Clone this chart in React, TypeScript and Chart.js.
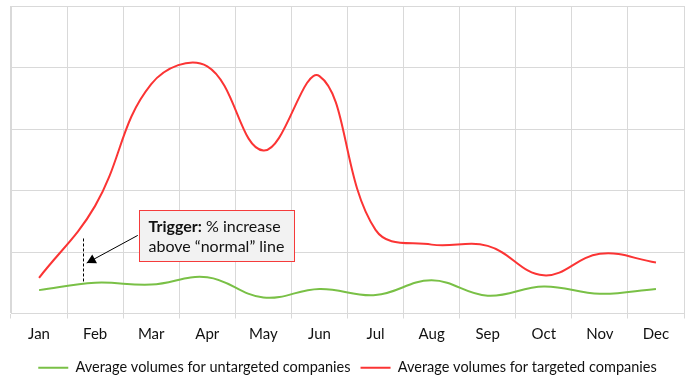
import React, { useEffect, useRef } from "react";
import { Chart, registerables } from "chart.js";

Chart.register(...registerables);

const months = ["Jan", "Feb", "Mar", "Apr", "May", "Jun", "Jul", "Aug", "Sep", "Oct", "Nov", "Dec"];
const untargeted = [0.38, 0.5, 0.47, 0.59, 0.26, 0.4, 0.3, 0.54, 0.29, 0.44, 0.32, 0.4];
const targeted = [0.58, 1.75, 3.73, 4.02, 2.65, 3.86, 1.36, 1.12, 1.1, 0.62, 0.97, 0.83];
const seriesNames = ["Average volumes for untargeted companies", "Average volumes for targeted companies"];
const yTicks = [0, 1, 2, 3, 4, 5];

const FONT = "Lato";

const annotationPlugin = {
  id: "triggerNote",
  afterDatasetsDraw(chart: any) {
    const { ctx, scales } = chart;
    const x = scales.x;
    const y = scales.y;
    const px = (v: number) => x.getPixelForValue(v);
    const py = (v: number) => y.getPixelForValue(v);
    ctx.save();
    // dashed vertical line
    const dx = Math.round(px(0.79)) + 0.5;
    ctx.strokeStyle = "#000";
    ctx.lineWidth = 1;
    ctx.setLineDash([3, 2]);
    ctx.beginPath();
    ctx.moveTo(dx, py(1.22));
    ctx.lineTo(dx, py(0.5));
    ctx.stroke();
    ctx.setLineDash([]);
    // arrow
    const ax1 = px(1.76), ay1 = py(1.27);
    const ax2 = px(0.85), ay2 = py(0.82);
    ctx.beginPath();
    ctx.moveTo(ax1, ay1);
    ctx.lineTo(ax2, ay2);
    ctx.stroke();
    const ang = Math.atan2(ay2 - ay1, ax2 - ax1);
    const L = 9, W = 5;
    ctx.fillStyle = "#000";
    ctx.beginPath();
    ctx.moveTo(ax2, ay2);
    ctx.lineTo(ax2 - L * Math.cos(ang) + W * Math.sin(ang), ay2 - L * Math.sin(ang) - W * Math.cos(ang));
    ctx.lineTo(ax2 - L * Math.cos(ang) - W * Math.sin(ang), ay2 - L * Math.sin(ang) + W * Math.cos(ang));
    ctx.closePath();
    ctx.fill();
    // box
    const bl = Math.round(px(1.78)) + 0.5, br = Math.round(px(4.55)) + 0.5;
    const bt = Math.round(py(1.68)) + 0.5, bb = Math.round(py(0.86)) + 0.5;
    ctx.fillStyle = "#f2f2f2";
    ctx.fillRect(bl, bt, br - bl, bb - bt);
    ctx.strokeStyle = "#f53b3b";
    ctx.lineWidth = 1;
    ctx.strokeRect(bl, bt, br - bl, bb - bt);
    // text
    ctx.fillStyle = "#111";
    ctx.textBaseline = "alphabetic";
    ctx.textAlign = "left";
    ctx.font = `bold 16px ${FONT}`;
    const tx = bl + 9;
    ctx.fillText("Trigger:", tx, bt + 21.5);
    const w = ctx.measureText("Trigger:").width;
    ctx.font = `16px ${FONT}`;
    ctx.fillText(" % increase", tx + w, bt + 21.5);
    ctx.fillText("above \u201Cnormal\u201D line", tx, bt + 41);
    ctx.restore();
  },
};

export default function App() {
  const ref = useRef<HTMLCanvasElement>(null);
  useEffect(() => {
    const chart = new Chart(ref.current!, {
      type: "line",
      data: {
        labels: months,
        datasets: [
          {
            label: seriesNames[0],
            data: untargeted,
            borderColor: "#79c046",
            backgroundColor: "#79c046",
            borderWidth: 2,
            pointRadius: 0,
            tension: 0.4,
          },
          {
            label: seriesNames[1],
            data: targeted,
            borderColor: "#fb3434",
            backgroundColor: "#fb3434",
            borderWidth: 2,
            pointRadius: 0,
            tension: 0.4,
          },
        ],
      },
      options: {
        responsive: false,
        animation: false,
        layout: { padding: { left: 11, right: 12, top: 6, bottom: 7 } },
        plugins: {
          tooltip: { enabled: false },
          legend: {
            position: "bottom",
            labels: {
              usePointStyle: true,
              pointStyle: "line",
              pointStyleWidth: 30,
              boxHeight: 8,
              color: "#111",
              font: { family: FONT, size: 14.5 },
              padding: 10,
            },
          },
        },
        scales: {
          x: {
            offset: true,
            grid: { offset: true, color: "#d9d9d9", lineWidth: 1, tickLength: 5, drawTicks: true },
            border: { color: "#d9d9d9" },
            ticks: { color: "#111", font: { family: FONT, size: 15 }, padding: 7 },
          },
          y: {
            min: yTicks[0],
            max: yTicks[yTicks.length - 1],
            afterBuildTicks: (s: any) => { s.ticks = yTicks.map((v) => ({ value: v })); },
            grid: { color: "#d9d9d9", drawTicks: false },
            border: { color: "#d9d9d9" },
            ticks: { display: false },
          },
        },
      },
      plugins: [annotationPlugin],
    } as any);
    return () => chart.destroy();
  }, []);
  return (
    <div style={{ position: "absolute", left: 0, top: 0, width: 696, height: 392, background: "#fff" }}>
      <canvas ref={ref} width={696} height={392} />
    </div>
  );
}
